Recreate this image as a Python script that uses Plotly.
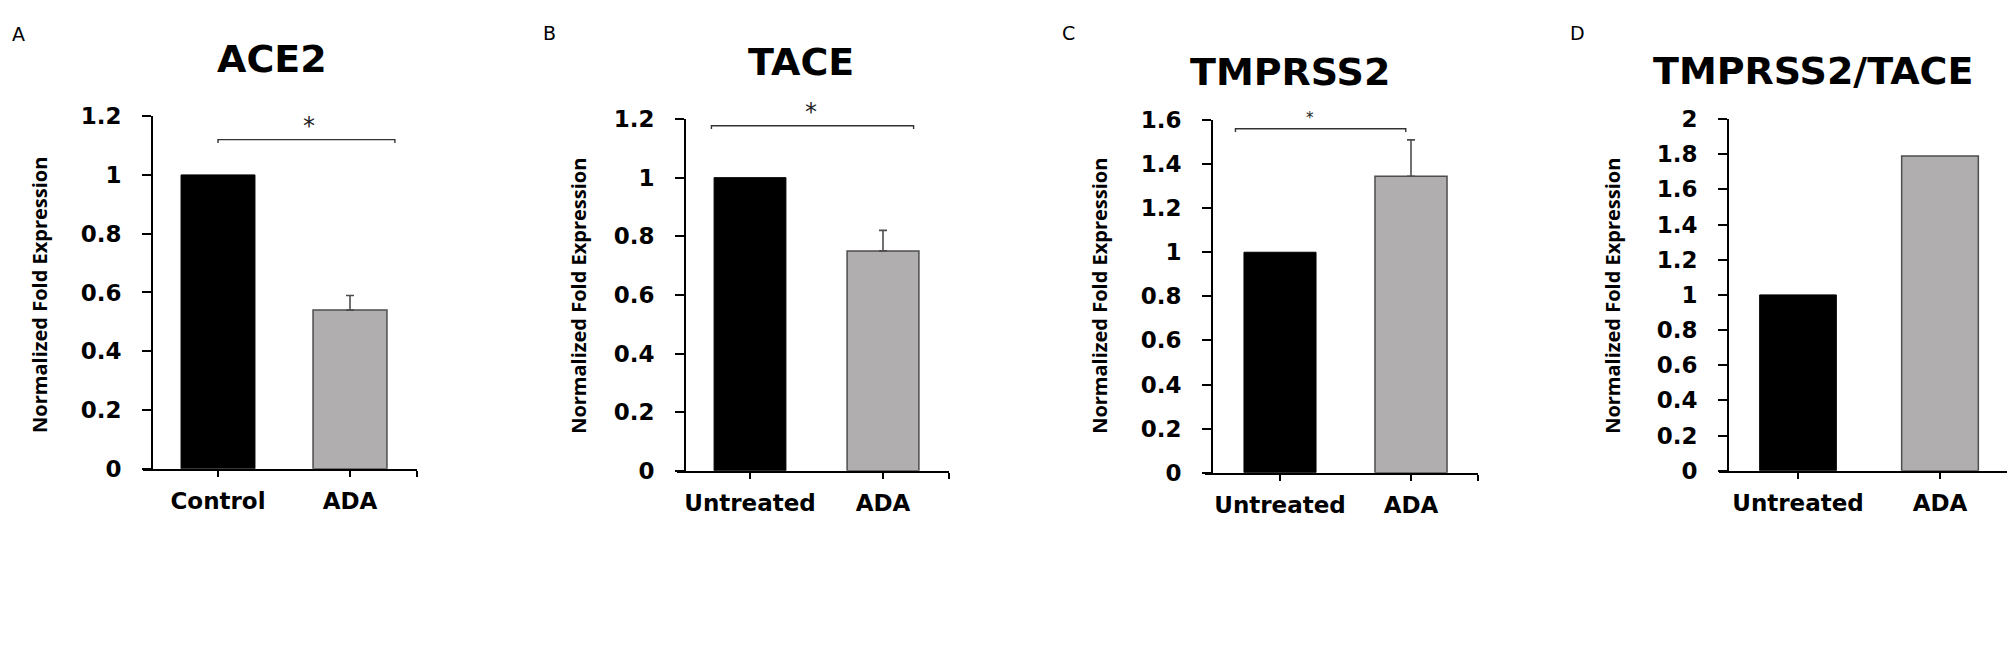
import plotly.graph_objects as go

# ---------------------------------------------------------------
# data
# ---------------------------------------------------------------
PANEL_LETTERS = ["A", "B", "C", "D"]
TITLES = ["ACE2", "TACE", "TMPRSS2", "TMPRSS2/TACE"]
CATEGORIES = [["Control", "ADA"], ["Untreated", "ADA"], ["Untreated", "ADA"], ["Untreated", "ADA"]]
CONTROL_VALUES = [1.0, 1.0, 1.0, 1.0]
ADA_VALUES = [0.54, 0.75, 1.345, 1.79]
ADA_ERRORS = [0.05, 0.07, 0.165, None]
Y_MAX = [1.2, 1.2, 1.6, 2.0]
SIG_LEVEL = [1.12, 1.177, 1.56, None]
SIG_LABEL = ["*", "*", "*", None]

# ---------------------------------------------------------------
# layout (pixels of the 2015 x 667 canvas)
# ---------------------------------------------------------------
W, H = 2015, 667
FONT = "DejaVu Sans"
LABEL_FONT = "Open Sans"
BLACK = "#000000"
GREY = "#b0aeae"
EDGE = "#4d4d4d"

# x-domain (px), y-axis line x (px), y-domain (px), tick centres (px)
PANEL_BOX = [
    dict(x0=135, x1=409, axis=144, y0=99, y1=466, t0=210, t1=342),
    dict(x0=669, x1=941, axis=677, y0=102, y1=468, t0=742, t1=875),
    dict(x0=1197, x1=1470, axis=1204, y0=103, y1=470, t0=1272, t1=1403),
    dict(x0=1711, x1=2003, axis=1720, y0=102, y1=468, t0=1790, t1=1932),
]
TITLE_POS = [(264, 40), (793, 43), (1282, 53), (1805, 52)]
LETTER_POS = [(10, 14), (541, 13), (1060, 13), (1569, 12)]
YLABEL_POS = [(32, 285), (571, 286), (1092, 286), (1605, 286)]
BAR_WIDTH = [0.56, 0.54, 0.55, 0.54]
# bracket ends (in category units) and star x
BRACKETS = [(0.0, 1.34, 0.69), (-0.29, 1.23, 0.46), (-0.34, 0.96, 0.23), None]
STAR_SIZE = [24, 24, 15, None]


def px(x):
    return x / W


def py(y):
    return 1 - y / H


fig = go.Figure()
layout = dict(
    width=W, height=H, margin=dict(l=0, r=0, t=0, b=0),
    paper_bgcolor="white", plot_bgcolor="white", showlegend=False,
    annotations=[],
)

for i in range(4):
    box = PANEL_BOX[i]
    n = "" if i == 0 else str(i + 1)
    xa, ya = "x" + n, "y" + n
    scale = box["t1"] - box["t0"]
    x_lo = (box["x0"] - box["t0"]) / scale
    x_hi = (box["x1"] - box["t0"]) / scale

    fig.add_trace(go.Bar(
        x=[0], y=[CONTROL_VALUES[i]], width=BAR_WIDTH[i],
        marker=dict(color=BLACK, line=dict(color=BLACK, width=1)),
        xaxis=xa, yaxis=ya, hoverinfo="y",
    ))
    err = None
    if ADA_ERRORS[i] is not None:
        err = dict(type="data", symmetric=False, array=[ADA_ERRORS[i]], arrayminus=[0],
                   color=EDGE, thickness=1.6, width=4)
    fig.add_trace(go.Bar(
        x=[1], y=[ADA_VALUES[i]], width=BAR_WIDTH[i],
        marker=dict(color=GREY, line=dict(color=EDGE, width=1.5)),
        error_y=err, xaxis=xa, yaxis=ya, hoverinfo="y",
    ))

    if SIG_LEVEL[i] is not None:
        bx0, bx1, sx = BRACKETS[i]
        d = 0.011 * Y_MAX[i] / 1.2
        lvl = SIG_LEVEL[i]
        fig.add_trace(go.Scatter(
            x=[bx0, bx0, bx1, bx1], y=[lvl - d, lvl, lvl, lvl - d], mode="lines",
            line=dict(color="#333333", width=1.4), cliponaxis=False,
            xaxis=xa, yaxis=ya, hoverinfo="skip",
        ))
        layout["annotations"].append(dict(
            x=sx, y=lvl, xref=xa, yref=ya, text=SIG_LABEL[i], showarrow=False,
            yanchor="bottom", yshift=-2 if i < 2 else 0,
            font=dict(family=FONT, size=STAR_SIZE[i], color="#222222"),
        ))

    layout["xaxis" + n] = dict(
        domain=[px(box["x0"]), px(box["x1"])], anchor=ya, range=[x_lo, x_hi],
        tickvals=[0, 1, x_hi - 0.003], ticktext=CATEGORIES[i] + [""],
        ticks="outside", ticklen=6, tickwidth=2, tickcolor=BLACK, ticklabelstandoff=5,
        showline=True, linecolor=BLACK, linewidth=2, showgrid=False, zeroline=False,
        tickfont=dict(family=FONT, size=23, color=BLACK, weight="bold"),
        fixedrange=True,
    )
    layout["yaxis" + n] = dict(
        domain=[py(box["y1"]), py(box["y0"])], anchor="free", position=px(box["axis"]),
        range=[0, Y_MAX[i]], dtick=0.2, tick0=0,
        ticks="outside", ticklen=9, tickwidth=2, tickcolor=BLACK, ticklabelstandoff=16,
        showline=True, linecolor=BLACK, linewidth=2, showgrid=False, zeroline=False,
        tickfont=dict(family=FONT, size=23, color=BLACK, weight="bold"),
        fixedrange=True,
    )

    tx, ty = TITLE_POS[i]
    layout["annotations"].append(dict(
        x=px(tx), y=py(ty), xref="paper", yref="paper", text="<b>%s</b>" % TITLES[i],
        showarrow=False, xanchor="center", yanchor="middle",
        font=dict(family=FONT, size=38, color=BLACK),
    ))
    lx, ly = LETTER_POS[i]
    layout["annotations"].append(dict(
        x=px(lx), y=py(ly), xref="paper", yref="paper", text=PANEL_LETTERS[i],
        showarrow=False, xanchor="center", yanchor="middle",
        font=dict(family=FONT, size=19, color=BLACK),
    ))
    yx, yy = YLABEL_POS[i]
    layout["annotations"].append(dict(
        x=px(yx), y=py(yy), xref="paper", yref="paper",
        text="<b>Normalized Fold Expression</b>", textangle=-90,
        showarrow=False, xanchor="center", yanchor="middle",
        font=dict(family=LABEL_FONT, size=20, color=BLACK),
    ))

fig.update_layout(**layout)
fig.write_html("out.html")
